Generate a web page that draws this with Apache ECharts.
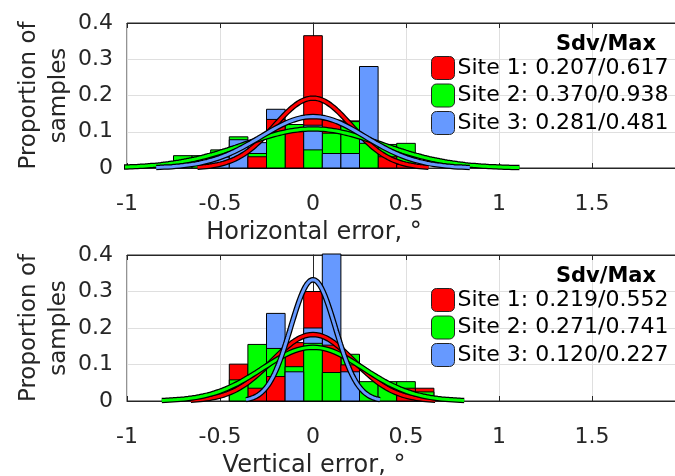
<!DOCTYPE html>
<html>
<head>
<meta charset="utf-8">
<script src="https://cdn.jsdelivr.net/npm/echarts@6/dist/echarts.min.js"></script>
<style>
  html, body { margin: 0; padding: 0; background: #fff; overflow: hidden; }
  #chart { width: 700px; height: 476px; }
</style>
</head>
<body>
<div id="chart"></div>
<script>
// Histogram bin centres (bin width 0.1 degree)
const binCenters = [-0.7, -0.6, -0.5, -0.4, -0.3, -0.2, -0.1, 0.0, 0.1, 0.2, 0.3, 0.4, 0.5, 0.6];
const binWidth = 0.1;

// Horizontal error: proportion of samples per bin
const horizSite1 = [0, 0, 0, 0, 0.031, 0.134, 0.100, 0.365, 0.132, 0.130, 0, 0.031, 0.010, 0];
const horizSite2 = [0.034, 0.034, 0.050, 0.086, 0.040, 0.100, 0.120, 0.050, 0.096, 0.128, 0.068, 0.065, 0.068, 0];
const horizSite3 = [0, 0, 0.030, 0.078, 0.070, 0.162, 0, 0.118, 0.040, 0.040, 0.280, 0, 0, 0];

// Vertical error: proportion of samples per bin
const vertSite1 = [0, 0, 0, 0.101, 0.035, 0.067, 0.160, 0.300, 0.153, 0.099, 0, 0, 0.035, 0.035];
const vertSite2 = [0, 0, 0, 0.058, 0.155, 0.144, 0.094, 0.158, 0.078, 0.128, 0.053, 0.053, 0.053, 0.025];
const vertSite3 = [0, 0, 0, 0, 0, 0.240, 0.080, 0.200, 0.450, 0.080, 0, 0, 0, 0];

// Standard deviation / maximum per site
const siteNames = ['Site 1', 'Site 2', 'Site 3'];
const horizSdv = [0.207, 0.370, 0.281];
const horizMax = [0.617, 0.938, 0.481];
const vertSdv = [0.219, 0.271, 0.120];
const vertMax = [0.552, 0.741, 0.227];

// Axis ranges and labels
const xMin = -1, xMax = 2, xStep = 0.5;
const yMin = 0, yMax = 0.4, yStep = 0.1;
const legendTitle = 'Sdv/Max';
const yAxisTitle = 'Proportion of\nsamples';
const xAxisTitles = ['Horizontal error, °', 'Vertical error, °'];

const siteColors = ['#ff0000', '#00ff00', '#6699ff'];
const FONT = 'DejaVu Sans';
const AXIS_TEXT = '#262626';

// Fitted normal curve scaled to the bin width, drawn over +-3 sd
function normalCurve(sd) {
  const pts = [];
  const n = 160;
  for (let i = 0; i <= n; i++) {
    const x = -3 * sd + (6 * sd * i) / n;
    const y = binWidth * Math.exp(-(x * x) / (2 * sd * sd)) / (sd * Math.sqrt(2 * Math.PI));
    pts.push([x, y]);
  }
  return pts;
}

// For each bin, taller bars sit behind shorter ones
function depthOrder(sets) {
  return sets.map((vals, s) => vals.map((v, i) => {
    let taller = 0;
    sets.forEach((other, o) => {
      if (o !== s && (other[i] > v || (other[i] === v && o < s))) taller++;
    });
    return 10 + taller;
  }));
}

function barRenderer(color) {
  return function (params, api) {
    const x = api.value(0);
    const v = api.value(1);
    if (!(v > 0)) return null;
    const p0 = api.coord([x - binWidth / 2, 0]);
    const p1 = api.coord([x + binWidth / 2, v]);
    const cs = params.coordSys;
    const shape = echarts.graphic.clipRectByRect(
      { x: p0[0], y: p1[1], width: p1[0] - p0[0], height: p0[1] - p1[1] },
      { x: cs.x, y: cs.y - 1, width: cs.width, height: cs.height + 1 }
    );
    if (!shape) return null;
    return {
      type: 'rect',
      shape: shape,
      z2: api.value(2),
      style: { fill: color, stroke: '#000', lineWidth: 1 }
    };
  };
}

const panels = [
  { sets: [horizSite1, horizSite2, horizSite3], sdv: horizSdv, max: horizMax, top: 23, height: 145 },
  { sets: [vertSite1, vertSite2, vertSite3], sdv: vertSdv, max: vertMax, top: 255, height: 146 }
];

const grids = [], xAxes = [], yAxes = [], series = [], legends = [], graphics = [];

panels.forEach((p, g) => {
  grids.push({
    left: 127, top: p.top, width: 558, height: p.height,
    show: true, borderColor: '#262626', borderWidth: 1, backgroundColor: 'transparent'
  });
  // bottom x axis with labels
  xAxes.push({
    type: 'value', gridIndex: g, min: xMin, max: xMax, interval: xStep, position: 'bottom',
    axisLine: { show: true, onZero: false, lineStyle: { color: '#262626', width: 1 } },
    axisTick: { show: true, inside: true, length: 5, lineStyle: { color: '#262626' } },
    axisLabel: {
      fontFamily: FONT, fontSize: 22, color: AXIS_TEXT, margin: 25,
      formatter: v => (v >= xMax ? '' : String(v))
    },
    splitLine: { show: true, lineStyle: { color: '#dfdfdf', width: 1 } }
  });
  // top x axis, ticks only
  xAxes.push({
    type: 'value', gridIndex: g, min: xMin, max: xMax, interval: xStep, position: 'top',
    axisLine: { show: true, onZero: false, lineStyle: { color: '#262626', width: 1 } },
    axisTick: { show: true, inside: true, length: 5, lineStyle: { color: '#262626' } },
    axisLabel: { show: false },
    splitLine: { show: false }
  });
  yAxes.push({
    type: 'value', gridIndex: g, min: yMin, max: yMax, interval: yStep,
    axisLine: { show: true, lineStyle: { color: '#262626', width: 1 } },
    axisTick: { show: true, inside: true, length: 5, lineStyle: { color: '#262626' } },
    axisLabel: { fontFamily: FONT, fontSize: 22, color: AXIS_TEXT, margin: 14 },
    splitLine: { show: true, lineStyle: { color: '#dfdfdf', width: 1 } }
  });

  const order = depthOrder(p.sets);
  const legendNames = [];
  p.sets.forEach((vals, s) => {
    const name = siteNames[s] + ': ' + p.sdv[s].toFixed(3) + '/' + p.max[s].toFixed(3);
    legendNames.push(name);
    series.push({
      type: 'custom', name: name, xAxisIndex: g * 2, yAxisIndex: g,
      renderItem: barRenderer(siteColors[s]),
      itemStyle: { color: siteColors[s] },
      encode: { x: 0, y: 1 },
      silent: true,
      data: binCenters.map((c, i) => [c, vals[i], order[s][i]])
    });
  });
  p.sdv.forEach((sd, s) => {
    const curve = normalCurve(sd);
    series.push({
      type: 'line', name: 'outline' + g + s, xAxisIndex: g * 2, yAxisIndex: g,
      data: curve, showSymbol: false, silent: true, z: 5 + s * 2,
      lineStyle: { color: '#000', width: 5.5 }
    });
    series.push({
      type: 'line', name: 'fit' + g + s, xAxisIndex: g * 2, yAxisIndex: g,
      data: curve, showSymbol: false, silent: true, z: 6 + s * 2,
      lineStyle: { color: siteColors[s], width: 3 }
    });
  });

  const off = p.top - 23;
  legends.push({
    data: legendNames.map(n => ({ name: n })),
    orient: 'vertical', left: 431, top: 56 + off, padding: 0,
    itemWidth: 23, itemHeight: 23, itemGap: 3.5,
    icon: 'path://M5,0H18A5,5,0,0,1,23,5V18A5,5,0,0,1,18,23H5A5,5,0,0,1,0,18V5A5,5,0,0,1,5,0Z',
    itemStyle: { borderColor: '#222', borderWidth: 1 },
    textStyle: { fontFamily: FONT, fontSize: 22, color: '#000', padding: [0, 0, 0, -2] },
    selectedMode: false
  });

  graphics.push({
    type: 'text', x: 606, y: 45 + off,
    style: { text: legendTitle, font: 'bold 21px "' + FONT + '"', fill: '#000', textAlign: 'center', textVerticalAlign: 'middle' },
    z: 100
  });
  graphics.push({
    type: 'text', x: 44, y: p.top + p.height / 2, rotation: Math.PI / 2,
    style: { text: yAxisTitle, font: '23px "' + FONT + '"', fill: AXIS_TEXT, textAlign: 'center', textVerticalAlign: 'middle', lineHeight: 30 }
  });
  graphics.push({
    type: 'text', x: 314, y: p.top + p.height + 65,
    style: { text: xAxisTitles[g], font: '24px "' + FONT + '"', fill: AXIS_TEXT, textAlign: 'center', textVerticalAlign: 'middle' }
  });
});

const chart = echarts.init(document.getElementById('chart'), null, { renderer: 'canvas' });
chart.setOption({
  animation: false,
  backgroundColor: '#fff',
  grid: grids,
  xAxis: xAxes,
  yAxis: yAxes,
  legend: legends,
  series: series,
  graphic: graphics
});
</script>
</body>
</html>
